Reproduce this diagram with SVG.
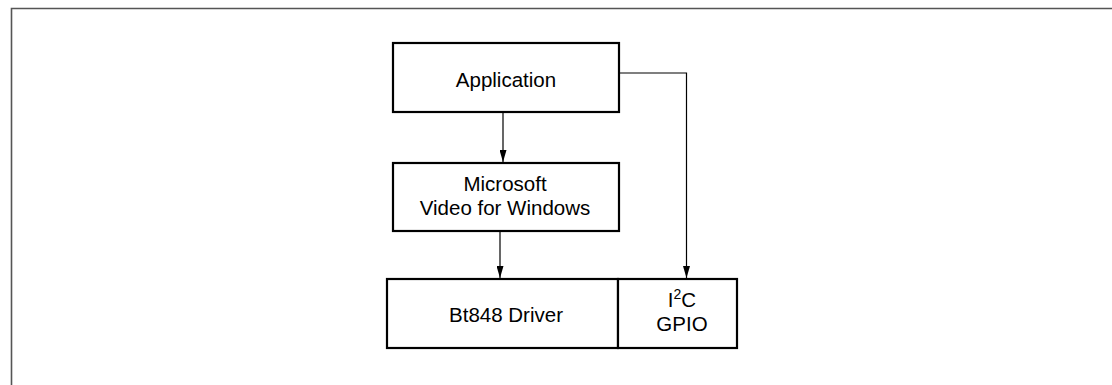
<svg xmlns="http://www.w3.org/2000/svg" width="1112" height="385" viewBox="0 0 1112 385">
<style>
.box{fill:#fff;stroke:#000;stroke-width:2.2}
.lbl{font-family:"Liberation Sans",Arial,sans-serif;font-size:20.5px;fill:#000;text-anchor:middle}
.con{fill:none;stroke:#000;stroke-width:1.2}
.frame{fill:none;stroke:#555;stroke-width:1.6}
</style>
<defs>
<marker id="ah" viewBox="0 0 7 12" refX="3.5" refY="12" markerWidth="7" markerHeight="12" markerUnits="userSpaceOnUse" orient="0">
<path d="M0,0 L7,0 L3.5,12 Z" fill="#000"/>
</marker>
</defs>
<path class="frame" d="M11.5,385 V8.5 H1112"/>
<g id="app">
<rect class="box" x="393" y="43" width="226" height="69"/>
<text class="lbl" x="506" y="87">Application</text>
</g>
<g id="vfw">
<rect class="box" x="393" y="163" width="226" height="68"/>
<text class="lbl" x="505" y="191">Microsoft</text>
<text class="lbl" x="505" y="215">Video for Windows</text>
</g>
<g id="bt848">
<rect class="box" x="387" y="279" width="231" height="69"/>
<text class="lbl" x="506" y="322">Bt848 Driver</text>
</g>
<g id="i2c">
<rect class="box" x="618" y="279" width="119" height="69"/>
<text class="lbl" x="682" y="307">I<tspan font-size="14" dy="-8">2</tspan><tspan dy="8">C</tspan></text>
<text class="lbl" x="682" y="331">GPIO</text>
</g>
<g id="connectors">
<path class="con" d="M503,112 V162" marker-end="url(#ah)"/>
<path class="con" d="M500,231 V278" marker-end="url(#ah)"/>
<path class="con" d="M618,73 H686.5 V278" marker-end="url(#ah)"/>
</g>
</svg>
